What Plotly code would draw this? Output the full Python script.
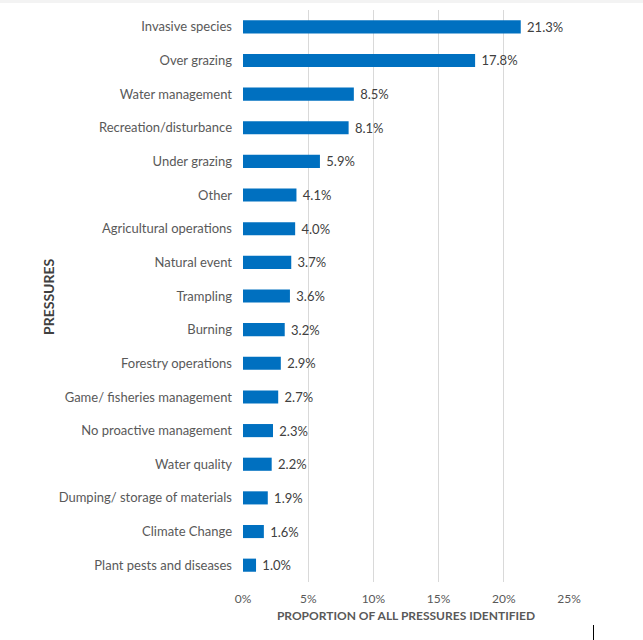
import plotly.graph_objects as go

categories = ["Invasive species", "Over grazing", "Water management", "Recreation/disturbance",
              "Under grazing", "Other", "Agricultural operations", "Natural event", "Trampling",
              "Burning", "Forestry operations", "Game/ fisheries management", "No proactive management",
              "Water quality", "Dumping/ storage of materials", "Climate Change", "Plant pests and diseases"]
values = [21.3, 17.8, 8.5, 8.1, 5.9, 4.1, 4.0, 3.7, 3.6, 3.2, 2.9, 2.7, 2.3, 2.2, 1.9, 1.6, 1.0]
x_ticks = [0, 5, 10, 15, 20, 25]
x_tick_labels = ["0%", "5%", "10%", "15%", "20%", "25%"]

FONT = "Lato, Open Sans, sans-serif"
GREY = "#595959"

fig = go.Figure(go.Bar(
    y=categories, x=values, orientation="h",
    marker=dict(color="#0070C0", line=dict(width=0)),
    text=[" %.1f%%" % v for v in values], textposition="outside",
    textfont=dict(family=FONT, size=13, color="#404040"),
    constraintext="none",
    cliponaxis=False,
))

fig.update_layout(
    width=643, height=640,
    margin=dict(l=243, r=74, t=10, b=58),
    paper_bgcolor="white", plot_bgcolor="white",
    bargap=0.61, showlegend=False,
    font=dict(family=FONT, size=13, color=GREY),
    uniformtext=dict(minsize=13, mode="show"),
    xaxis=dict(range=[0, 25], tickvals=x_ticks, ticktext=x_tick_labels,
               showgrid=True, gridcolor="#d9d9d9", gridwidth=1, zeroline=False,
               showline=False, ticks="", ticklabelstandoff=8,
               tickfont=dict(family=FONT, size=12, color=GREY),
               title=dict(text="<b>PROPORTION OF ALL PRESSURES IDENTIFIED</b>", standoff=6,
                          font=dict(family=FONT, size=12, color=GREY))),
    yaxis=dict(autorange="reversed", showgrid=False, showline=False, ticks="",
               ticklabelstandoff=10,
               tickfont=dict(family=FONT, size=13, color=GREY)),
)

fig.add_annotation(text="<b>PRESSURES</b>", xref="paper", yref="paper",
                   x=(48 - 243) / 326, y=(582 - 297) / 572, textangle=-90,
                   showarrow=False, xanchor="center", yanchor="middle",
                   font=dict(family=FONT, size=14, color="#404040"))

# faint top shadow strip
fig.add_shape(type="rect", xref="paper", yref="paper",
              x0=-243 / 326, x1=(643 - 243) / 326,
              y0=1 + 7 / 572, y1=1 + 10 / 572,
              fillcolor="#f3f3f3", line=dict(width=0), layer="below")

fig.add_shape(type="line", xref="paper", yref="paper", x0=(593.5-243)/326, x1=(593.5-243)/326,
              y0=-(625-582)/572, y1=-(640-582)/572, line=dict(color="black", width=1))

fig.write_html("out.html")
